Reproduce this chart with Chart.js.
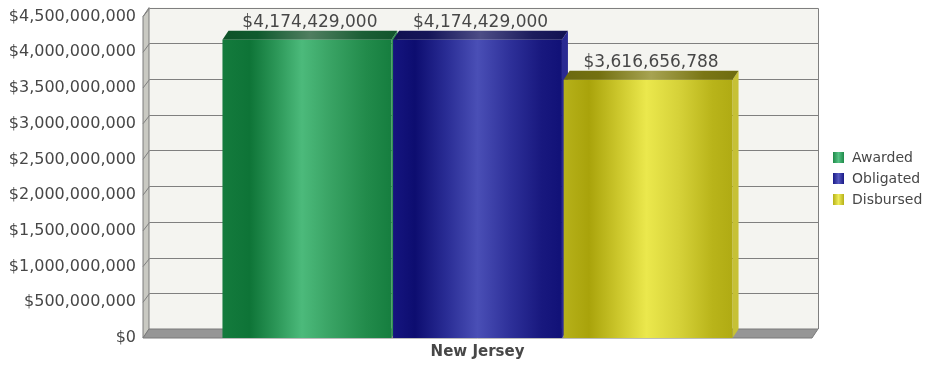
<!DOCTYPE html>
<html>
<head>
<meta charset="utf-8">
<script src="https://cdn.jsdelivr.net/npm/chart.js@4/dist/chart.umd.min.js"></script>
<style>
  html, body { margin: 0; padding: 0; background: #ffffff; }
  #wrap { width: 926px; height: 365px; position: relative; }
</style>
</head>
<body>
<div id="wrap"><canvas id="chart"></canvas></div>
<script>
// ---- data ----
const categories = ['New Jersey'];
const seriesNames = ['Awarded', 'Obligated', 'Disbursed'];
const awarded = [4174429000];
const obligated = [4174429000];
const disbursed = [3616656788];
const yTickValues = [0, 500000000, 1000000000, 1500000000, 2000000000,
                     2500000000, 3000000000, 3500000000, 4000000000, 4500000000];

// ---- styling ----
const FONT = '"DejaVu Sans", Verdana, sans-serif';
const TEXT = '#474747';
const DEPTH_X = 6;     // horizontal offset of the back plane
const DEPTH_Y = 9;     // vertical offset of the back plane
const CAT_PCT = 0.765;
const BAR_PCT = 0.99;

const palettes = [
  { // green
    front: [[0, '#147b3d'], [0.16, '#0e7437'], [0.32, '#2c9758'], [0.47, '#4cba7b'], [0.64, '#39a364'], [0.85, '#228b4b'], [1, '#167e3f']],
    top:   [[0, '#0e5229'], [0.2, '#0f5a2e'], [0.5, '#507e60'], [0.8, '#1c5f36'], [1, '#11552c']],
    side: '#2f9153',
    key:  [[0, '#1f8a49'], [0.5, '#55c184'], [1, '#1f8a49']]
  },
  { // blue
    front: [[0, '#15157f'], [0.13, '#0d0d70'], [0.32, '#2a2d95'], [0.5, '#4a4fb6'], [0.7, '#2d2f98'], [0.88, '#18187e'], [1, '#111177']],
    top:   [[0, '#111150'], [0.2, '#151558'], [0.5, '#4d4d86'], [0.8, '#1c1c5c'], [1, '#121252']],
    side: '#2a2a92',
    key:  [[0, '#1a1a86'], [0.5, '#5558c0'], [1, '#1a1a86']]
  },
  { // yellow
    front: [[0, '#b6b11a'], [0.15, '#a9a30b'], [0.32, '#cbc62b'], [0.49, '#ebe84d'], [0.68, '#d6d239'], [0.88, '#b9b41a'], [1, '#b0ab13']],
    top:   [[0, '#6c690f'], [0.2, '#737010'], [0.5, '#a7a352'], [0.8, '#7a7615'], [1, '#6e6b10']],
    side: '#c6c136',
    key:  [[0, '#b5b018'], [0.5, '#efec5a'], [1, '#b5b018']]
  }
];

function hGradient(ctx, x0, x1, stops) {
  const g = ctx.createLinearGradient(x0, 0, x1, 0);
  stops.forEach(([o, c]) => g.addColorStop(o, c));
  return g;
}

// left/right pixel edges of a bar, using the same rules as the bar ruler
function barSpan(chart, datasetIndex, dataIndex) {
  const xs = chart.scales.x;
  const area = chart.chartArea;
  const size = (area.right - area.left) / categories.length * CAT_PCT;
  const chunk = size / seriesNames.length;
  const center = xs.getPixelForValue(dataIndex) - size / 2 + chunk * datasetIndex + chunk / 2;
  const w = chunk * BAR_PCT;
  return [center - w / 2, center + w / 2];
}

const fmtMoney = v => '$' + Number(v).toLocaleString('en-US');

const box3d = {
  id: 'box3d',
  beforeDraw(chart) {
    const { ctx, chartArea: a, scales: { y } } = chart;
    const L = a.left, R = a.right, T = a.top, B = a.bottom;
    ctx.save();
    // back wall
    ctx.fillStyle = '#f4f4f0';
    ctx.fillRect(L + DEPTH_X, T - DEPTH_Y, R - L, B - T);
    // left wall
    ctx.beginPath();
    ctx.moveTo(L, T); ctx.lineTo(L + DEPTH_X, T - DEPTH_Y);
    ctx.lineTo(L + DEPTH_X, B - DEPTH_Y); ctx.lineTo(L, B); ctx.closePath();
    ctx.fillStyle = '#c9c9c2'; ctx.fill();
    ctx.strokeStyle = '#7d7d7d'; ctx.lineWidth = 1; ctx.stroke();
    // floor
    ctx.beginPath();
    ctx.moveTo(L, B); ctx.lineTo(L + DEPTH_X, B - DEPTH_Y);
    ctx.lineTo(R + DEPTH_X, B - DEPTH_Y); ctx.lineTo(R, B); ctx.closePath();
    ctx.fillStyle = '#969696'; ctx.fill();
    ctx.strokeStyle = '#7a7a7a'; ctx.stroke();
    // grid lines: across the left wall, then along the back wall
    ctx.strokeStyle = '#7f7f7f';
    y.ticks.forEach(t => {
      if (t.value === 0) return;
      const yf = y.getPixelForValue(t.value);
      const yb = Math.round(yf - DEPTH_Y) + 0.5;
      ctx.beginPath();
      ctx.moveTo(L, yf);
      ctx.lineTo(L + DEPTH_X + 0.5, yb);
      ctx.lineTo(R + DEPTH_X + 0.5, yb);
      ctx.stroke();
    });
    // right edge of back wall
    ctx.beginPath();
    ctx.moveTo(R + DEPTH_X + 0.5, Math.round(T - DEPTH_Y) + 0.5);
    ctx.lineTo(R + DEPTH_X + 0.5, B - DEPTH_Y);
    ctx.stroke();
    ctx.restore();
  },
  beforeDatasetsDraw(chart) {
    // side and top faces go underneath the front faces drawn by the bar controller
    const { ctx } = chart;
    ctx.save();
    chart.data.datasets.forEach((ds, di) => {
      const meta = chart.getDatasetMeta(di);
      meta.data.forEach(el => {
        const { x, y, width, base } = el.getProps(['x', 'y', 'width', 'base'], true);
        const l = x - width / 2, r = x + width / 2;
        const pal = palettes[di];
        // right side
        ctx.beginPath();
        ctx.moveTo(r, y); ctx.lineTo(r + DEPTH_X, y - DEPTH_Y);
        ctx.lineTo(r + DEPTH_X, base - DEPTH_Y); ctx.lineTo(r, base); ctx.closePath();
        ctx.fillStyle = pal.side; ctx.fill();
        // top
        ctx.beginPath();
        ctx.moveTo(l, y); ctx.lineTo(r, y);
        ctx.lineTo(r + DEPTH_X, y - DEPTH_Y); ctx.lineTo(l + DEPTH_X, y - DEPTH_Y); ctx.closePath();
        ctx.fillStyle = hGradient(ctx, l, r + DEPTH_X, pal.top); ctx.fill();
      });
    });
    ctx.restore();
  },
  afterDatasetsDraw(chart) {
    const { ctx } = chart;
    ctx.save();
    ctx.font = '17px ' + FONT;
    ctx.fillStyle = TEXT;
    ctx.textAlign = 'center';
    ctx.textBaseline = 'alphabetic';
    chart.data.datasets.forEach((ds, di) => {
      const meta = chart.getDatasetMeta(di);
      meta.data.forEach((el, i) => {
        const { x, y } = el.getProps(['x', 'y'], true);
        ctx.fillText(fmtMoney(ds.data[i]), x + DEPTH_X / 2, y - DEPTH_Y - 4);
      });
    });
    ctx.restore();
  },
  afterDraw(chart) {
    // legend on the right
    const { ctx, chartArea: a } = chart;
    ctx.save();
    ctx.font = '14px ' + FONT;
    ctx.textBaseline = 'middle';
    ctx.textAlign = 'left';
    const x0 = a.right + 21;
    seriesNames.forEach((name, i) => {
      const cy = 157.5 + i * 21;
      ctx.fillStyle = hGradient(ctx, x0, x0 + 11, palettes[i].key);
      ctx.fillRect(x0, cy - 5.5, 11, 11);
      ctx.fillStyle = TEXT;
      ctx.fillText(name, x0 + 19, cy + 0.5);
    });
    ctx.restore();
  }
};

const seriesValues = [awarded, obligated, disbursed];

new Chart(document.getElementById('chart'), {
  type: 'bar',
  data: {
    labels: categories,
    datasets: seriesNames.map((name, di) => ({
      label: name,
      data: seriesValues[di],
      backgroundColor: c => {
        if (c.type !== 'data' || !c.chart.chartArea) return palettes[di].front[3][1];
        const [l, r] = barSpan(c.chart, c.datasetIndex, c.dataIndex);
        return hGradient(c.chart.ctx, l, r, palettes[di].front);
      },
      borderWidth: 0,
      categoryPercentage: CAT_PCT,
      barPercentage: BAR_PCT
    }))
  },
  options: {
    responsive: true,
    maintainAspectRatio: false,
    animation: false,
    events: [],
    layout: { padding: { top: 15, right: 114, left: 0, bottom: 0 } },
    plugins: {
      legend: { display: false },
      tooltip: { enabled: false },
      title: { display: false }
    },
    scales: {
      x: {
        grid: { display: false, drawTicks: false },
        border: { display: false },
        ticks: {
          color: TEXT,
          font: { family: FONT, size: 15, weight: 'bold' },
          padding: 5
        },
        afterFit: s => { s.height = 27; }
      },
      y: {
        min: 0,
        max: 4500000000,
        grid: { display: false, drawTicks: false },
        border: { display: false },
        afterBuildTicks: s => { s.ticks = yTickValues.map(v => ({ value: v })); },
        ticks: {
          color: TEXT,
          font: { family: FONT, size: 16 },
          padding: 7,
          callback: v => fmtMoney(v)
        },
        afterFit: s => { s.width = 143; }
      }
    }
  },
  plugins: [box3d]
});
</script>
</body>
</html>
